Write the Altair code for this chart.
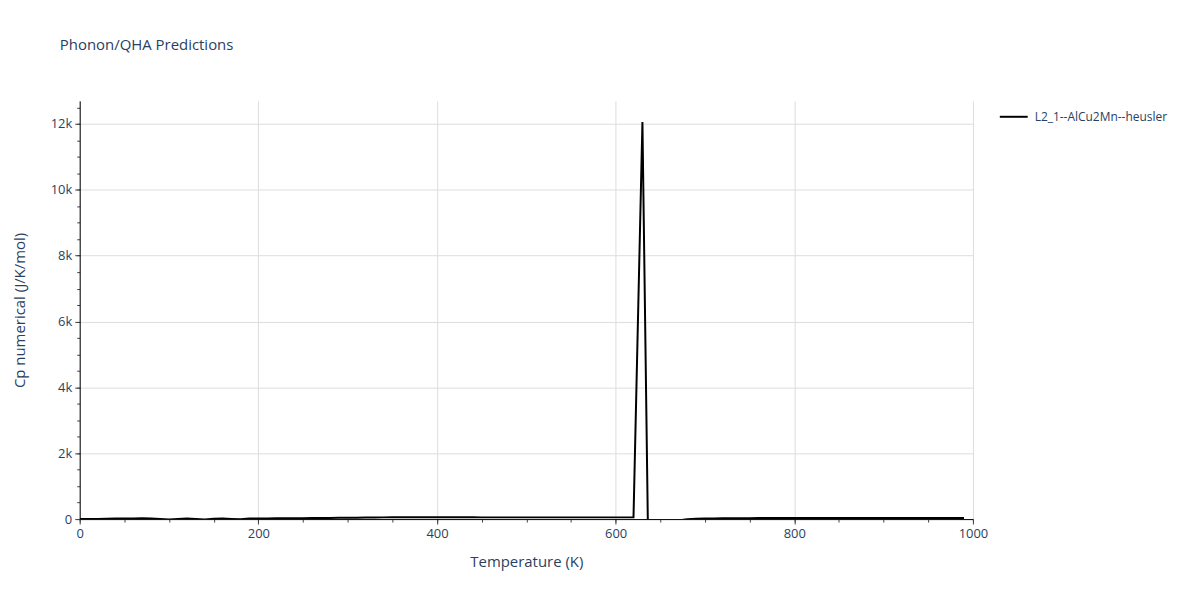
import altair as alt
import pandas as pd

temperature = list(range(0, 1000, 10))
cp = [
    0, 3, 6, 10, 15, 18, 20, 22, 18, 5,
    -10, 5, 15, 0, -12, 10, 20, 5, -8, 15,
    18, 20, 22, 24, 26, 28, 30, 32, 35, 38,
    40, 43, 46, 49, 52, 55, 56, 57, 58, 58,
    57, 55, 54, 53, 53, 52, 52, 52, 52, 52,
    52, 52, 52, 52, 52, 52, 52, 52, 52, 52,
    52, 52, 52, 12060, -8000, -600, -150, -40, -8, 8,
    15, 20, 23, 25, 27, 28, 30, 30, 30, 30,
    30, 30, 30, 30, 30, 30, 30, 30, 30, 30,
    30, 30, 30, 30, 30, 30, 30, 30, 30, 30,
]
series_name = "L2_1--AlCu2Mn--heusler"

x_major = [0, 200, 400, 600, 800, 1000]
x_minor = list(range(0, 1001, 50))
y_major = [0, 2000, 4000, 6000, 8000, 10000, 12000]
y_minor = list(range(0, 12701, 500))

df = pd.DataFrame({"T": temperature, "Cp": cp, "series": [series_name] * len(temperature)})

FONT = "Open Sans"
TXT = "#2a3f5f"
GRID = "#dddddd"

x_scale = alt.Scale(domain=[0, 1000], nice=False, zero=False)
y_scale = alt.Scale(domain=[0, 12700], nice=False, zero=False)

W = 897
H = 420

main = alt.Chart(df).mark_line(strokeWidth=2, clip=True).encode(
    x=alt.X(
        "T:Q", scale=x_scale,
        axis=alt.Axis(
            orient="bottom",
            title="Temperature (K)", values=x_major, format="d", labelFlush=False,
            grid=True, gridColor=GRID, gridWidth=1,
            domainColor="#000", domainWidth=1, tickColor="#444", tickSize=5,
            labelFont=FONT, labelFontSize=13, labelColor=TXT, labelPadding=3,
            titleFont=FONT, titleFontSize=15, titleColor=TXT, titleFontWeight="normal",
            titleX=W / 2, titleY=43, titleBaseline="middle", titleAlign="center",
        ),
    ),
    y=alt.Y(
        "Cp:Q", scale=y_scale,
        axis=alt.Axis(
            orient="left",
            title="Cp numerical (J/K/mol)", values=y_major,
            labelExpr="datum.value == 0 ? '0' : format(datum.value / 1000, 'd') + 'k'",
            labelFlush=False,
            grid=True, gridColor=GRID, gridWidth=1,
            domainColor="#000", domainWidth=1, tickColor="#444", tickSize=5,
            labelFont=FONT, labelFontSize=13, labelColor=TXT, labelPadding=3,
            titleFont=FONT, titleFontSize=15, titleColor=TXT, titleFontWeight="normal",
            titleX=-60, titleY=H / 2, titleAngle=270, titleBaseline="middle", titleAlign="center",
        ),
    ),
    color=alt.Color(
        "series:N",
        scale=alt.Scale(range=["#000000"]),
        legend=alt.Legend(
            title=None, orient="none", legendX=923, legendY=1,
            symbolType="stroke", symbolStrokeWidth=2, symbolSize=784,
            labelFont=FONT, labelFontSize=12, labelColor=TXT, labelOffset=6,
            padding=0,
        ),
    ),
)

minor = alt.Chart(df).mark_point(opacity=0).encode(
    x=alt.X(
        "T:Q", scale=x_scale,
        axis=alt.Axis(title=None, values=x_minor, labels=False, grid=False, domain=False,
                      tickColor="#444", tickSize=3, orient="bottom"),
    ),
    y=alt.Y(
        "Cp:Q", scale=y_scale,
        axis=alt.Axis(title=None, values=y_minor, labels=False, grid=False, domain=False,
                      tickColor="#444", tickSize=3, orient="left"),
    ),
)

chart = alt.layer(minor, main).resolve_axis(x="independent", y="independent").properties(
    width=W,
    height=H,
    autosize=alt.AutoSizeParams(type="none"),
    padding={"left": 72, "top": 92, "right": 220, "bottom": 80},
    title=alt.TitleParams(
        "Phonon/QHA Predictions", anchor="start", frame="group", dx=-20, offset=36,
        baseline="alphabetic", font=FONT, fontSize=15, color=TXT, fontWeight="normal",
    ),
).configure_view(stroke=None)

chart.save("out.html", embed_options={"renderer": "svg", "actions": False})
